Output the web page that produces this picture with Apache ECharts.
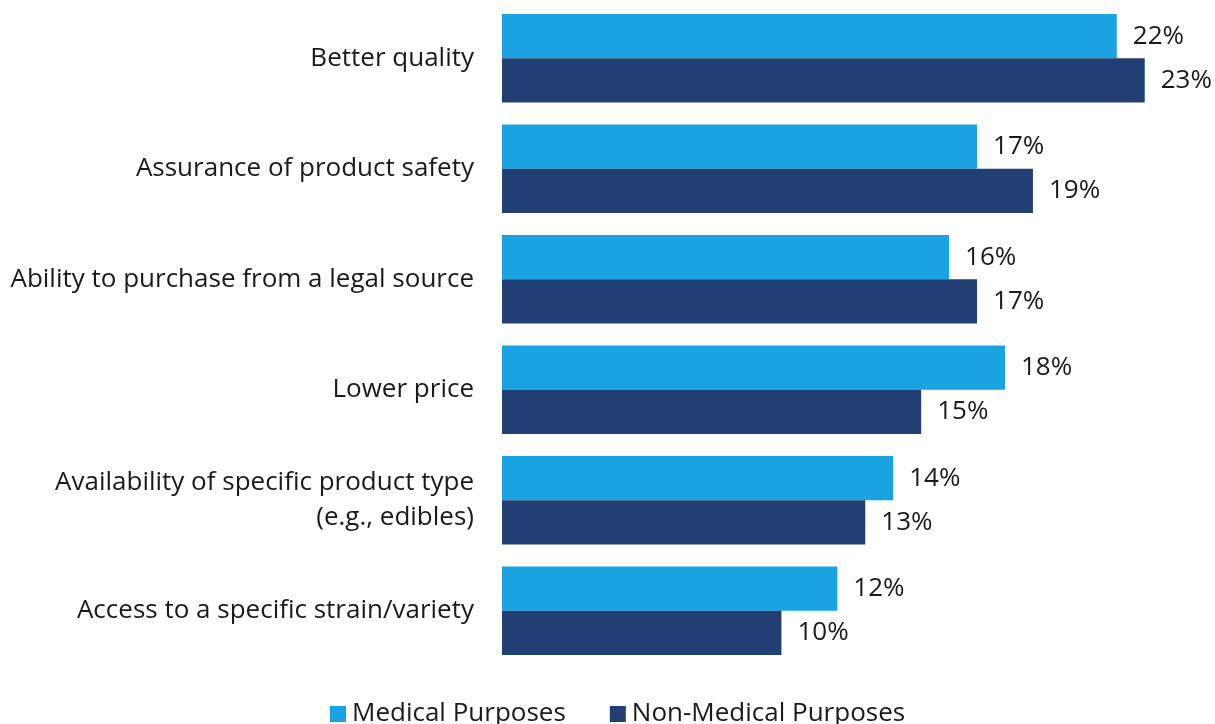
<!DOCTYPE html>
<html>
<head>
<meta charset="utf-8">
<title>Reasons for purchasing from a legal source</title>
<script src="https://cdn.jsdelivr.net/npm/echarts@6/dist/echarts.min.js"></script>
<style>
  html, body { margin: 0; padding: 0; background: #ffffff; }
  #chart { width: 1215px; height: 724px; }
</style>
</head>
<body>
<div id="chart"></div>
<script>
// Reasons given, in display order (top to bottom)
const categories = [
  'Better quality',
  'Assurance of product safety',
  'Ability to purchase from a legal source',
  'Lower price',
  'Availability of specific product type\n(e.g., edibles)',
  'Access to a specific strain/variety'
];

// Share of respondents (%)
const medicalValues = [22, 17, 16, 18, 14, 12];
const nonMedicalValues = [23, 19, 17, 15, 13, 10];

const seriesNames = ['Medical Purposes', 'Non-Medical Purposes'];
const colors = ['#1aa3e2', '#223f73'];

const fontFamily = '"Open Sans", "Noto Sans", sans-serif';

const chart = echarts.init(document.getElementById('chart'));

const labelStyle = {
  show: true,
  position: 'right',
  distance: 16,
  formatter: '{c}%',
  color: '#1a1a1a',
  fontSize: 26,
  fontFamily: fontFamily
};

chart.setOption({
  animation: false,
  color: colors,
  grid: { left: 502, right: 6, top: 3, height: 663 },
  xAxis: {
    type: 'value',
    min: 0,
    max: 25.3,
    show: false
  },
  yAxis: {
    type: 'category',
    inverse: true,
    data: categories,
    axisLine: { show: false },
    axisTick: { show: false },
    axisLabel: {
      margin: 28,
      color: '#1a1a1a',
      fontSize: 26,
      lineHeight: 35,
      align: 'right',
      fontFamily: fontFamily
    }
  },
  legend: {
    data: seriesNames,
    bottom: -8,
    left: 325,
    itemWidth: 16,
    itemHeight: 16,
    itemGap: 44,
    icon: 'rect',
    textStyle: { color: '#1a1a1a', fontSize: 26, fontFamily: fontFamily, padding: [0, 0, 0, 1] }
  },
  series: [
    {
      name: seriesNames[0],
      type: 'bar',
      data: medicalValues,
      barGap: '0%',
      barCategoryGap: '20%',
      label: labelStyle
    },
    {
      name: seriesNames[1],
      type: 'bar',
      data: nonMedicalValues,
      barGap: '0%',
      barCategoryGap: '20%',
      label: labelStyle
    }
  ]
});
</script>
</body>
</html>
